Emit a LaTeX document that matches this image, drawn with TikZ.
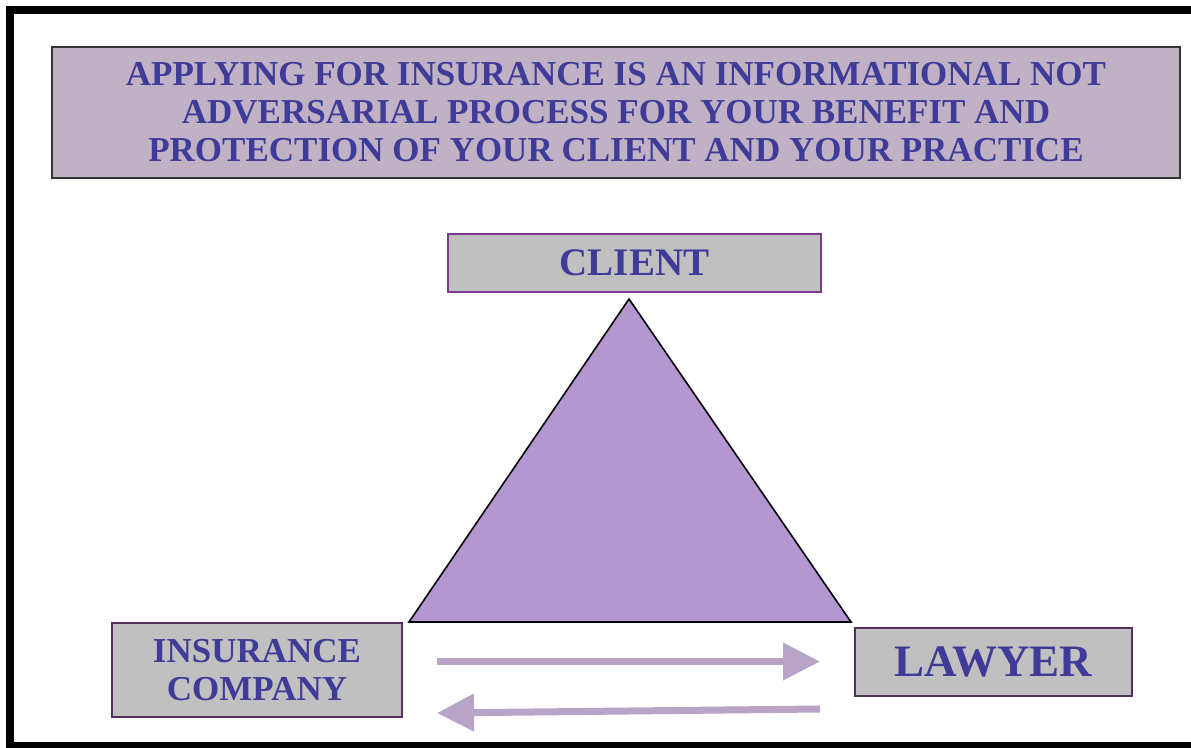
\documentclass[tikz,border=0pt]{standalone}
\usepackage{fontspec}
\setmainfont{Liberation Serif}
\usetikzlibrary{arrows.meta}
\definecolor{txtblue}{HTML}{3E3C98}
\definecolor{titlefill}{HTML}{C1B1C5}
\definecolor{boxgray}{HTML}{C0C0C0}
\definecolor{trifill}{HTML}{B497D1}
\definecolor{arrowcol}{HTML}{B8A4C6}
\definecolor{clientborder}{HTML}{7B3A8C}
\definecolor{darkborder}{HTML}{54305F}
\tikzset{
  graybox/.style={draw=darkborder, line width=1.8pt, fill=boxgray, inner sep=0pt, text=txtblue, align=center},
  flowarrow/.style={draw=arrowcol, line width=7pt, -{Triangle[length=37pt,width=36pt]}},
}
\begin{document}
\begin{tikzpicture}[x=1pt,y=-1pt]
\useasboundingbox (0,0) rectangle (1191,747);
\fill[white] (0,0) rectangle (1191,747);
% frame
\draw[line width=8pt, line join=miter] (1195,9.5) -- (10,9.5) -- (10,745.5) -- (1195,745.5);
% title
\node[draw=black!80, line width=1.5pt, fill=titlefill, minimum width=1128pt, minimum height=131pt, inner sep=0pt,
      text=txtblue, align=center, font=\fontsize{35}{38}\selectfont\bfseries] (title) at (616,112.5)
  {APPLYING FOR INSURANCE IS AN INFORMATIONAL NOT\\
   ADVERSARIAL PROCESS FOR YOUR BENEFIT AND\\
   PROTECTION OF YOUR CLIENT AND YOUR PRACTICE};
% triangle
\coordinate (apex) at (629,299);
\coordinate (bl) at (409,622);
\coordinate (br) at (851,622);
\fill[black!25, opacity=0.6] ([yshift=3pt]bl) -- ([yshift=3pt]br) -- ([xshift=2pt]br) -- ([xshift=2pt]bl) -- cycle;
\draw[fill=trifill, line width=1.6pt, line join=miter] (apex) -- (bl) -- (br) -- cycle;
% nodes
\node[graybox, draw=clientborder, line width=2pt, minimum width=373pt, minimum height=58pt,
      font=\fontsize{39}{42}\selectfont\bfseries] (client) at (634.5,263) {CLIENT};
\node[graybox, minimum width=290pt, minimum height=94pt,
      font=\fontsize{35}{38}\selectfont\bfseries] (ins) at (257,670) {INSURANCE\\COMPANY};
\node[graybox, minimum width=277pt, minimum height=68pt,
      font=\fontsize{45}{48}\selectfont\bfseries] (law) at (993.5,662) {LAWYER};
% arrows
\coordinate (a1s) at (437,661.5);
\coordinate (a1e) at (820,661.5);
\coordinate (a2s) at (820,709);
\coordinate (a2e) at (437,713);
\draw[flowarrow] (a1s) -- (a1e);
\draw[flowarrow] (a2s) -- (a2e);
\end{tikzpicture}
\end{document}
